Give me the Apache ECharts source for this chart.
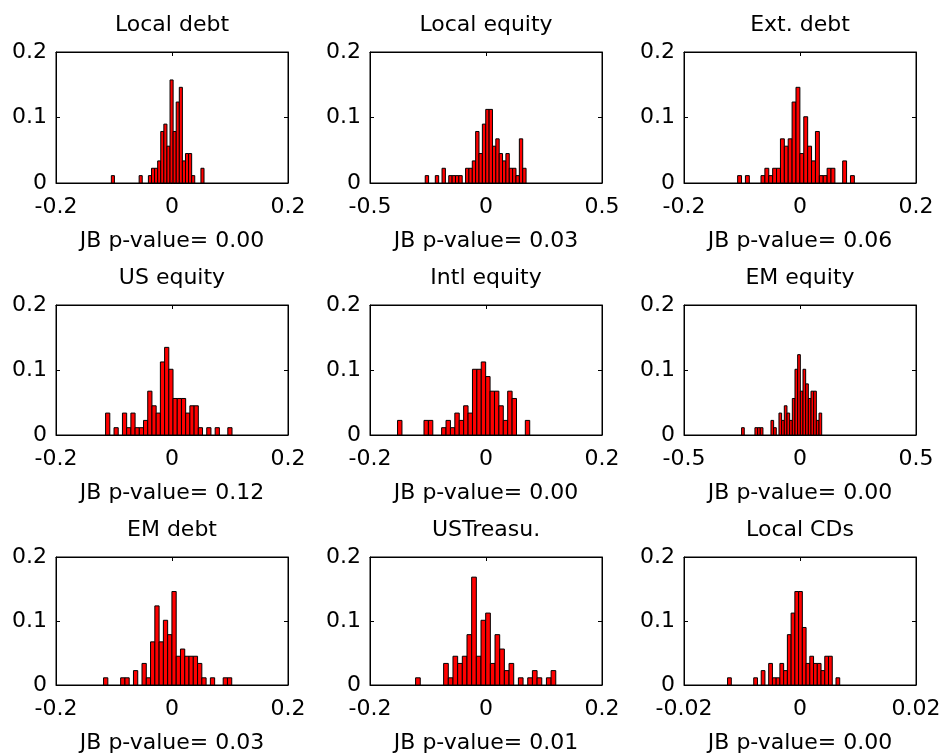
<!DOCTYPE html>
<html>
<head>
<meta charset="utf-8">
<script src="https://cdn.jsdelivr.net/npm/echarts@6/dist/echarts.min.js"></script>
<style>
html, body { margin: 0; padding: 0; background: #ffffff; }
#chart { width: 945px; height: 755px; }
</style>
</head>
<body>
<div id="chart"></div>
<script>
// ---------------- data ----------------
const panelTitles = ['Local debt', 'Local equity', 'Ext. debt', 'US equity', 'Intl equity', 'EM equity', 'EM debt', 'USTreasu.', 'Local CDs'];
const jbPValues = ['0.00', '0.03', '0.06', '0.12', '0.00', '0.00', '0.03', '0.01', '0.00'];
const xTickMin = [-0.2, -0.5, -0.2, -0.2, -0.2, -0.5, -0.2, -0.2, -0.02];
const xTickMax = [0.2, 0.5, 0.2, 0.2, 0.2, 0.5, 0.2, 0.2, 0.02];
const xTickStep = [0.2, 0.5, 0.2, 0.2, 0.2, 0.5, 0.2, 0.2, 0.02];
const yTickMin = 0;
const yTickMax = 0.2;
const yTickStep = 0.1;
const sampleSize = 89;   // observations per series (frequency = count / sampleSize)

// each histogram: [lowest bin edge, highest bin edge] and counts for 30 equal bins
const localDebtRange = [-0.1046, 0.0552];
const localDebtCounts = [1,0,0,0,0,0,0,0,0,1, 0,0,1,2,2,3,7,8,5,14, 7,11,13,3,4,4,1,0,0,2];
const localEquityRange = [-0.2619, 0.1727];
const localEquityCounts = [1,0,0,1,0,2,0,1,1,1, 1,0,2,2,3,7,4,8,10,10, 5,6,4,3,4,2,2,1,6,2];
const extDebtRange = [-0.1075, 0.0937];
const extDebtCounts = [1,0,1,0,0,0,1,2,1,2, 2,6,5,6,11,13,4,9,5,3, 7,1,1,2,2,0,0,3,0,1];
const usEquityRange = [-0.1145, 0.1035];
const usEquityCounts = [3,0,1,0,3,1,3,1,1,2, 6,4,3,10,12,9,5,5,5,3, 4,4,1,0,1,0,1,0,0,1];
const intlEquityRange = [-0.1525, 0.0754];
const intlEquityCounts = [2,0,0,0,0,0,2,2,0,0, 1,2,1,3,2,4,3,9,9,10, 8,6,6,4,2,6,5,0,0,2];
const emEquityRange = [-0.2518, 0.0935];
const emEquityCounts = [1,0,0,0,0,1,1,1,0,0, 0,2,1,0,3,2,4,3,2,5, 9,11,6,9,7,5,6,6,2,3];
const emDebtRange = [-0.1180, 0.1030];
const emDebtCounts = [1,0,0,0,1,1,0,2,0,3, 1,6,11,6,9,7,13,4,5,4, 4,4,3,1,0,1,0,0,1,1];
const usTreasuRange = [-0.1214, 0.1203];
const usTreasuCounts = [1,0,0,0,0,0,3,1,4,3, 4,7,15,4,9,10,3,7,5,2, 3,0,1,0,1,2,1,0,1,2];
const localCDsRange = [-0.01249, 0.00685];
const localCDsCounts = [1,0,0,0,0,0,0,1,0,2, 0,3,1,1,3,2,7,10,13,13, 8,3,4,3,3,2,4,4,0,1];

const histRanges = [localDebtRange, localEquityRange, extDebtRange, usEquityRange, intlEquityRange, emEquityRange, emDebtRange, usTreasuRange, localCDsRange];
const histCounts = [localDebtCounts, localEquityCounts, extDebtCounts, usEquityCounts, intlEquityCounts, emEquityCounts, emDebtCounts, usTreasuCounts, localCDsCounts];

// ---------------- layout / style ----------------
const colLeft = [56, 370, 684];
const rowTop = [52, 305, 557];
const rowHeight = [131, 130, 129];
const boxWidth = 232;
const FONT = 'DejaVu Sans';
const FS = 22;

function buildBins(range, counts) {
  const n = counts.length;
  const w = (range[1] - range[0]) / n;
  const out = [];
  for (let k = 0; k < n; k++) {
    if (counts[k] > 0) {
      out.push([range[0] + k * w, range[0] + (k + 1) * w, counts[k] / sampleSize]);
    }
  }
  return out;
}

function renderBar(params, api) {
  const p0 = api.coord([api.value(0), api.value(2)]);
  const p1 = api.coord([api.value(1), 0]);
  return {
    type: 'rect',
    shape: { x: p0[0], y: p0[1], width: p1[0] - p0[0], height: p1[1] - p0[1] },
    style: { fill: '#ff0000', stroke: '#000000', lineWidth: 1 }
  };
}

const grids = [], xAxes = [], yAxes = [], series = [], titles = [];
for (let i = 0; i < 9; i++) {
  const r = Math.floor(i / 3), c = i % 3;
  grids.push({
    left: colLeft[c], top: rowTop[r], width: boxWidth, height: rowHeight[r],
    show: true, borderColor: '#000', borderWidth: 1, backgroundColor: '#fff',
    containLabel: false
  });
  const axisCommon = {
    gridIndex: i, type: 'value', min: xTickMin[i], max: xTickMax[i], interval: xTickStep[i],
    splitLine: { show: false },
    axisLine: { show: true, onZero: false, lineStyle: { color: '#000', width: 1 } },
    axisTick: { show: true, inside: true, length: 4, lineStyle: { color: '#000' } }
  };
  xAxes.push(Object.assign({}, axisCommon, {
    position: 'bottom',
    axisLabel: { show: true, margin: 13, color: '#000', fontFamily: FONT, fontSize: FS },
    name: 'JB p-value= ' + jbPValues[i],
    nameLocation: 'middle', nameGap: 47,
    nameTextStyle: { color: '#000', fontFamily: FONT, fontSize: FS }
  }));
  xAxes.push(Object.assign({}, axisCommon, {
    position: 'top', axisLabel: { show: false }
  }));
  const yCommon = {
    gridIndex: i, type: 'value', min: yTickMin, max: yTickMax, interval: yTickStep,
    splitLine: { show: false },
    axisLine: { show: true, onZero: false, lineStyle: { color: '#000', width: 1 } },
    axisTick: { show: true, inside: true, length: 4, lineStyle: { color: '#000' } }
  };
  yAxes.push(Object.assign({}, yCommon, {
    position: 'left',
    axisLabel: { show: true, margin: 9, color: '#000', fontFamily: FONT, fontSize: FS }
  }));
  yAxes.push(Object.assign({}, yCommon, {
    position: 'right', axisLabel: { show: false }
  }));
  series.push({
    type: 'custom', xAxisIndex: 2 * i, yAxisIndex: 2 * i,
    renderItem: renderBar, encode: { x: [0, 1], y: 2 },
    data: buildBins(histRanges[i], histCounts[i]), clip: true, silent: true
  });
  titles.push({
    text: panelTitles[i], left: colLeft[c] + boxWidth / 2, top: rowTop[r] - 38, textAlign: 'center', padding: 0,
    textStyle: { color: '#000', fontFamily: FONT, fontSize: FS, fontWeight: 'normal' }
  });
}

const chart = echarts.init(document.getElementById('chart'), null, { renderer: 'canvas' });
chart.setOption({
  backgroundColor: '#ffffff',
  animation: false,
  title: titles,
  grid: grids,
  xAxis: xAxes,
  yAxis: yAxes,
  series: series
});
</script>
</body>
</html>
